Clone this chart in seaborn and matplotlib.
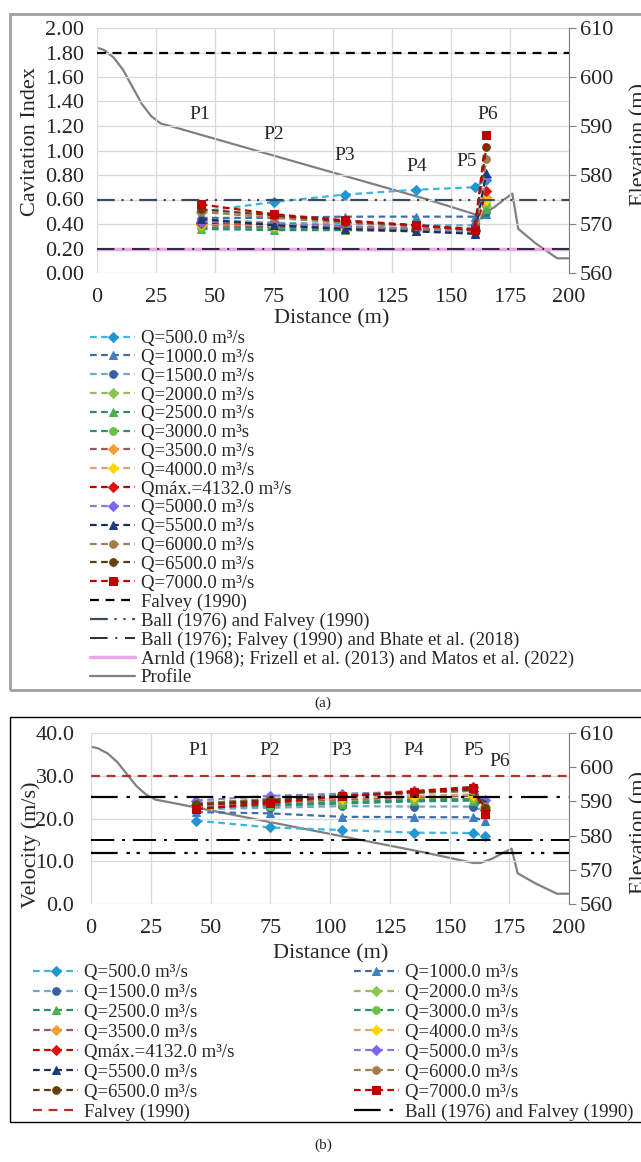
import numpy as np
import pandas as pd
import matplotlib
matplotlib.use("Agg")
import matplotlib.pyplot as plt
import seaborn as sns
from matplotlib.patches import Rectangle

# stations P1..P6 (distance, m)
stations = [44, 75, 105, 135, 160, 165]
station_names = ["P1", "P2", "P3", "P4", "P5", "P6"]

labels = ["Q=500.0 m³/s", "Q=1000.0 m³/s", "Q=1500.0 m³/s", "Q=2000.0 m³/s",
          "Q=2500.0 m³/s", "Q=3000.0 m³s", "Q=3500.0 m³/s", "Q=4000.0 m³/s",
          "Qmáx.=4132.0 m³/s", "Q=5000.0 m³/s", "Q=5500.0 m³/s", "Q=6000.0 m³/s",
          "Q=6500.0 m³/s", "Q=7000.0 m³/s"]
labels_b = list(labels)
labels_b[5] = "Q=3000.0 m³/s"

# cavitation index per discharge at P1..P6
sigma_500 = [0.50, 0.58, 0.64, 0.68, 0.70, 0.76]
sigma_1000 = [0.45, 0.45, 0.46, 0.46, 0.46, 0.48]
sigma_1500 = [0.44, 0.41, 0.40, 0.39, 0.39, 0.50]
sigma_2000 = [0.40, 0.38, 0.38, 0.36, 0.35, 0.55]
sigma_2500 = [0.36, 0.35, 0.35, 0.34, 0.33, 0.52]
sigma_3000 = [0.37, 0.37, 0.36, 0.35, 0.34, 0.57]
sigma_3500 = [0.39, 0.38, 0.37, 0.35, 0.34, 0.62]
sigma_4000 = [0.40, 0.39, 0.37, 0.36, 0.34, 0.60]
sigma_qmax = [0.41, 0.40, 0.38, 0.36, 0.35, 0.67]
sigma_5000 = [0.42, 0.40, 0.38, 0.36, 0.34, 0.78]
sigma_5500 = [0.44, 0.39, 0.36, 0.34, 0.32, 0.82]
sigma_6000 = [0.50, 0.45, 0.41, 0.38, 0.35, 0.93]
sigma_6500 = [0.52, 0.47, 0.42, 0.39, 0.36, 1.03]
sigma_7000 = [0.56, 0.48, 0.43, 0.39, 0.35, 1.13]

# velocity per discharge at P1..P6 (m/s)
vel_500 = [19.5, 17.9, 17.3, 16.7, 16.6, 15.8]
vel_1000 = [21.5, 21.2, 20.4, 20.3, 20.3, 19.3]
vel_1500 = [22.2, 22.5, 22.9, 22.8, 22.8, 21.5]
vel_2000 = [22.8, 23.5, 24.2, 24.5, 24.6, 22.5]
vel_2500 = [22.6, 23.0, 23.5, 24.0, 24.2, 22.0]
vel_3000 = [22.5, 23.2, 23.8, 24.3, 24.5, 22.3]
vel_3500 = [23.0, 23.8, 24.5, 25.0, 25.3, 22.8]
vel_4000 = [23.0, 24.0, 24.8, 25.3, 25.6, 23.0]
vel_qmax = [23.2, 23.9, 25.5, 26.4, 27.4, 22.0]
vel_5000 = [24.2, 25.3, 25.8, 26.2, 26.5, 24.3]
vel_5500 = [23.5, 24.5, 25.3, 26.0, 26.5, 23.5]
vel_6000 = [23.5, 24.5, 25.3, 26.0, 26.5, 23.0]
vel_6500 = [23.3, 24.3, 25.2, 26.1, 26.8, 22.5]
vel_7000 = [22.2, 23.6, 25.2, 26.3, 27.2, 21.0]

# spillway profile (distance m, elevation m)
profile_x = [0, 3, 7, 11, 15, 19, 23, 27, 31, 60, 100, 140, 160, 163, 168, 172, 176, 178.5, 186, 195, 200]
profile_z = [606, 605.5, 604, 601.5, 598, 594.5, 592, 590.5, 590, 586, 580.5, 575, 572, 572,
             573.3, 574.8, 576.2, 569, 566, 563, 563]

sigmas = [sigma_500, sigma_1000, sigma_1500, sigma_2000, sigma_2500, sigma_3000, sigma_3500,
          sigma_4000, sigma_qmax, sigma_5000, sigma_5500, sigma_6000, sigma_6500, sigma_7000]
vels = [vel_500, vel_1000, vel_1500, vel_2000, vel_2500, vel_3000, vel_3500,
        vel_4000, vel_qmax, vel_5000, vel_5500, vel_6000, vel_6500, vel_7000]

line_colors = ["#3DB5E0", "#3F6FA8", "#6FA8C8", "#9BBB59", "#2E8B6A", "#2F8F6F", "#9B5A5A",
               "#E0A070", "#C00000", "#8080D0", "#1F2F4F", "#A08050", "#5A3A1A", "#C00000"]
marker_colors = ["#2196D0", "#3F7FC0", "#3A5FA0", "#8CC850", "#4CAF50", "#6CC04A", "#F0A030",
                 "#FFD700", "#E01010", "#7B68EE", "#1F3A7A", "#A57A4B", "#6B3E10", "#C00000"]
markers = ["D", "^", "o", "D", "^", "o", "D", "D", "D", "D", "^", "o", "o", "s"]

sns.set_style("whitegrid")
plt.rcParams['font.family'] = ['Liberation Serif', 'DejaVu Serif']

W, H = 641, 1162
fig = plt.figure(figsize=(W / 100, H / 100), dpi=100)


def fx(px):
    return px / W


def fy(py):
    return 1 - py / H


# panel frames
fig.patches.append(Rectangle((fx(10), fy(690)), fx(660), 676 / H, transform=fig.transFigure,
                             fill=False, edgecolor="#A0A0A0", lw=2))
fig.patches.append(Rectangle((fx(10), fy(1122)), fx(660), 405 / H, transform=fig.transFigure,
                             fill=False, edgecolor="black", lw=1))


def draw_series(ax, values, labs):
    handles = []
    for vals, lab, lc, mc, mk in zip(values, labs, line_colors, marker_colors, markers):
        df = pd.DataFrame({"x": stations, "y": vals})
        sns.lineplot(data=df, x="x", y="y", ax=ax, color=lc, linestyle=(0, (3, 2)), lw=1.6,
                     marker=mk, markersize=5.5, markerfacecolor=mc, markeredgecolor=mc,
                     label=lab, legend=False, sort=False)
        handles.append(ax.lines[-1])
    return handles


def style_axes(ax, ax2, ymax, yticks, fmt, ypad):
    ax.set_xlim(0, 200)
    ax.set_ylim(0, ymax)
    ax.set_xticks(range(0, 201, 25))
    ax.set_yticks(yticks)
    ax.set_yticklabels([fmt.format(v) for v in yticks])
    ax.grid(True, color="#D9D9D9", lw=0.9)
    for s in ax.spines.values():
        s.set_visible(False)
    ax.tick_params(axis="x", labelsize=16, length=0, pad=11)
    ax.tick_params(axis="y", labelsize=16, length=0, pad=ypad)
    ax.set_xlabel("")
    ax.set_ylabel("")
    ax2.set_ylim(560, 610)
    ax2.set_yticks(range(560, 611, 10))
    ax2.grid(False)
    for s in ["top", "left", "bottom"]:
        ax2.spines[s].set_visible(False)
    ax2.spines["right"].set_color("#7F7F7F")
    ax2.tick_params(axis="y", labelsize=16, length=5, direction="out", color="#7F7F7F", pad=3)
    ax2.set_ylabel("")


leg_kw = dict(frameon=False, fontsize=13.5, numpoints=1, handlelength=2.4, handletextpad=0.3,
              labelspacing=0.09, borderpad=0, borderaxespad=0, loc="upper left")

# ---------------- (a) cavitation index ----------------
ax1 = fig.add_axes([fx(97), fy(273), fx(472), 245 / H])
ax1b = ax1.twinx()
h_series = draw_series(ax1, sigmas, labels)

h_falvey = ax1.axhline(1.80, color="black", ls=(0, (4, 3)), lw=1.6, label="Falvey (1990)")
h_ball = ax1.axhline(0.60, color="#3B4A5E", ls=(0, (8, 3, 1, 3, 1, 3)), lw=1.6,
                     label="Ball (1976) and Falvey (1990)")
h_arnld = ax1.axhline(0.20, color="#E8A8E8", ls="-", lw=2.5,
                      label="Arnld (1968); Frizell et al. (2013) and Matos et al. (2022)")
h_bhate = ax1.axhline(0.20, color="#2A2A3A", ls=(0, (9, 4, 1, 4)), lw=1.4,
                      label="Ball (1976); Falvey (1990) and Bhate et al. (2018)")
sns.lineplot(x=profile_x, y=profile_z, ax=ax1b, color="#808080", lw=1.6, sort=False,
             label="Profile", legend=False)
h_prof = ax1b.lines[-1]

style_axes(ax1, ax1b, 2.0, np.arange(0, 2.01, 0.2), "{:.2f}", 9)
ax1.set_zorder(ax1b.get_zorder() + 1)
ax1.patch.set_visible(False)

p_x_a = [43.5, 75, 105, 135.5, 156.5, 165.5]
p_y_a = [1.29, 1.13, 0.96, 0.87, 0.91, 1.29]
for name, xs, ys in zip(station_names, p_x_a, p_y_a):
    ax1.text(xs, ys, name, ha="center", va="center", fontsize=14)

fig.text(fx(31), fy(142), "Cavitation Index", rotation=90, ha="center", va="center", fontsize=16)
fig.text(fx(630), fy(145), "Elevation (m)", rotation=90, ha="left", va="center", fontsize=16)
fig.text(fx(332), fy(319), "Distance (m)", ha="center", va="center", fontsize=16)

leg_a = h_series + [h_falvey, h_ball, h_bhate, h_arnld, h_prof]
fig.legend(handles=leg_a, labels=[h.get_label() for h in leg_a],
           bbox_to_anchor=(fx(90), fy(330)), **leg_kw)
fig.text(fx(323), fy(703), "(a)", ha="center", va="center", fontsize=11)

# ---------------- (b) velocity ----------------
ax2 = fig.add_axes([fx(91), fy(904), fx(478), 171 / H])
ax2b = ax2.twinx()
h_series_b = draw_series(ax2, vels, labels_b)

h_f2 = ax2.axhline(30, color="#B03030", ls=(0, (4, 3)), lw=1.6, label="Falvey (1990)")
ax2.axhline(25, color="black", ls=(0, (12, 4, 1.5, 4)), lw=1.6)
ax2.axhline(15, color="black", ls=(0, (12, 4, 1.5, 4)), lw=1.4)
h_b2 = ax2.axhline(12, color="black", ls=(0, (12, 4, 1.5, 3, 1.5, 4)), lw=1.6,
                   label="Ball (1976) and Falvey (1990)")
sns.lineplot(x=profile_x, y=profile_z, ax=ax2b, color="#808080", lw=1.6, sort=False, legend=False)

style_axes(ax2, ax2b, 40, np.arange(0, 40.1, 10), "{:.1f}", 12)
ax2.set_zorder(ax2b.get_zorder() + 1)
ax2.patch.set_visible(False)

p_x_b = [45, 75, 105, 135, 160, 171]
p_y_b = [36.0, 36.0, 36.0, 36.0, 36.0, 33.3]
for name, xs, ys in zip(station_names, p_x_b, p_y_b):
    ax2.text(xs, ys, name, ha="center", va="center", fontsize=14)

fig.text(fx(31), fy(845), "Velocity (m/s)", rotation=90, ha="center", va="center", fontsize=16)
fig.text(fx(630), fy(832), "Elevation (m)", rotation=90, ha="left", va="center", fontsize=16)
fig.text(fx(331), fy(954), "Distance (m)", ha="center", va="center", fontsize=16)

leg_b = h_series_b + [h_f2, h_b2]
col1 = leg_b[0::2]
col2 = leg_b[1::2]
lb_kw = dict(leg_kw)
lb_kw["labelspacing"] = 0.15
fig.legend(handles=col1, labels=[h.get_label() for h in col1],
           bbox_to_anchor=(fx(33), fy(964)), **lb_kw)
fig.legend(handles=col2, labels=[h.get_label() for h in col2],
           bbox_to_anchor=(fx(354), fy(964)), **lb_kw)
fig.text(fx(323), fy(1145), "(b)", ha="center", va="center", fontsize=11)

plt.savefig("out.png", dpi=100)
